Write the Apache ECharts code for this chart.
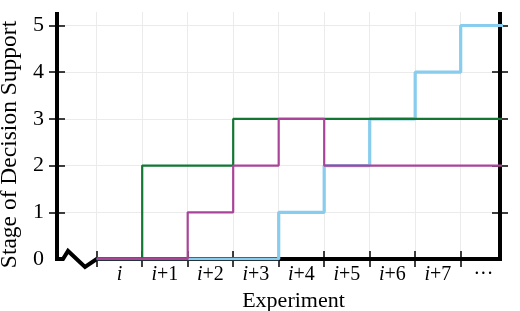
<!DOCTYPE html>
<html><head><meta charset="utf-8">
<script src="https://cdn.jsdelivr.net/npm/echarts@6/dist/echarts.min.js"></script>
<style>html,body{margin:0;padding:0;background:#fff}#c{width:520px;height:311px}</style>
</head><body><div id="c"></div>
<script>
// ---- data ----
const categories = ['i', 'i+1', 'i+2', 'i+3', 'i+4', 'i+5', 'i+6', 'i+7', '···'];
const yTickValues = [0, 1, 2, 3, 4, 5];
const blueValues   = [0, 0, 0, 0, 1, 2, 3, 4, 5];
const greenValues  = [0, 2, 2, 3, 3, 3, 3, 3, 3];
const purpleValues = [0, 0, 1, 2, 3, 2, 2, 2, 2];
const xTitle = 'Experiment';
const yTitle = 'Stage of Decision Support';

// ---- layout ----
const FONT = '"Liberation Serif", "Times New Roman", serif';
const X_MIN = -0.8725, X_MAX = 8.864, Y_MAX = 5.289;
const GRID = {left: 57, right: 20, top: 12, bottom: 52, containLabel: false, outerBoundsMode: 'none'};

const boundaryVals = categories.map((_, i) => i);
const labelVals = categories.map((_, i) => i + 0.5);
const innerY = yTickValues.filter(v => v > 0);

function stepData(vals) {
  const d = vals.map((v, i) => [i, v]);
  d.push([vals.length, vals[vals.length - 1]]);
  return d;
}
function fmtX(v) {
  const idx = Math.floor(v + 1e-6);
  const s = categories[idx];
  if (s === undefined) return '';
  if (s[0] === 'i') {
    const rest = s.slice(1);
    return '{it|i}' + (rest ? '{n|' + rest + '}' : '');
  }
  return '{n|' + s + '}';
}
const tickStyle = {color: '#000', width: 1.5};
const gridLine = {show: true, lineStyle: {color: '#ebebeb', width: 1}};
const noLine = {show: false, onZero: false};

const chart = echarts.init(document.getElementById('c'), null, {renderer: 'canvas'});
const option = {
  animation: false,
  backgroundColor: '#fff',
  textStyle: {fontFamily: FONT, color: '#000'},
  grid: GRID,
  xAxis: [
    {
      type: 'value', min: X_MIN, max: X_MAX, position: 'bottom',
      axisLine: noLine,
      axisTick: {show: true, length: 8, customValues: boundaryVals, lineStyle: tickStyle},
      axisLabel: {
        customValues: labelVals, margin: 6, formatter: fmtX,
        rich: {
          it: {fontFamily: FONT, fontStyle: 'italic', fontSize: 20, color: '#000'},
          n: {fontFamily: FONT, fontSize: 20, color: '#000'}
        }
      },
      splitLine: gridLine,
      name: xTitle, nameLocation: 'middle', nameGap: 26,
      nameTextStyle: {fontFamily: FONT, fontSize: 22, color: '#000', padding: [0, 0, 0, 30]}
    },
    {
      type: 'value', min: X_MIN, max: X_MAX, position: 'bottom',
      axisLine: noLine,
      axisTick: {show: true, inside: true, length: 8, customValues: boundaryVals, lineStyle: tickStyle},
      axisLabel: {show: false}, splitLine: {show: false}
    }
  ],
  yAxis: [
    {
      type: 'value', min: 0, max: Y_MAX, position: 'left',
      axisLine: noLine,
      axisTick: {show: true, length: 8, customValues: innerY, lineStyle: tickStyle},
      axisLabel: {customValues: yTickValues, margin: 13, fontFamily: FONT, fontSize: 22, color: '#000'},
      splitLine: gridLine,
      name: yTitle, nameLocation: 'middle', nameGap: 32,
      nameTextStyle: {fontFamily: FONT, fontSize: 23.5, color: '#000', padding: [0, 18, 0, 0]}
    },
    {
      type: 'value', min: 0, max: Y_MAX, position: 'left',
      axisLine: noLine,
      axisTick: {show: true, inside: true, length: 8, customValues: innerY, lineStyle: tickStyle},
      axisLabel: {show: false}, splitLine: {show: false}
    },
    {
      type: 'value', min: 0, max: Y_MAX, position: 'right',
      axisLine: noLine,
      axisTick: {show: true, length: 8, customValues: innerY, lineStyle: tickStyle},
      axisLabel: {show: false}, splitLine: {show: false}
    },
    {
      type: 'value', min: 0, max: Y_MAX, position: 'right',
      axisLine: noLine,
      axisTick: {show: true, inside: true, length: 8, customValues: innerY, lineStyle: tickStyle},
      axisLabel: {show: false}, splitLine: {show: false}
    }
  ],
  series: [
    {name: 'Blue', type: 'line', step: 'end', symbol: 'none', data: stepData(blueValues),
     lineStyle: {color: '#88CCEE', width: 3.2}, itemStyle: {color: '#88CCEE'}},
    {name: 'Green', type: 'line', step: 'end', symbol: 'none', data: stepData(greenValues),
     lineStyle: {color: '#117733', width: 2.2}, itemStyle: {color: '#117733'}},
    {name: 'Purple', type: 'line', step: 'end', symbol: 'none', data: stepData(purpleValues),
     lineStyle: {color: '#AA4499', width: 2.2}, itemStyle: {color: '#AA4499'}}
  ]
};
chart.setOption(option);

// frame with axis-break zigzag, positioned from the axes' own scales
const o = chart.convertToPixel({xAxisIndex: 0, yAxisIndex: 0}, [0, 0]);
const tr = chart.convertToPixel({xAxisIndex: 0, yAxisIndex: 0}, [X_MAX, Y_MAX]);
const L = chart.convertToPixel({xAxisIndex: 0}, X_MIN);
const x0 = o[0], y0 = o[1], R = tr[0], T = tr[1];
chart.setOption({
  graphic: [{
    type: 'polyline', z: 1, silent: true,
    shape: {points: [[L, T], [L, y0], [L + 6, y0], [L + 11, y0 - 8], [L + 28, y0 + 8], [x0, y0], [R, y0], [R, T]]},
    style: {stroke: '#000', lineWidth: 4, fill: 'none', lineJoin: 'miter'}
  }]
});
</script>
</body></html>
